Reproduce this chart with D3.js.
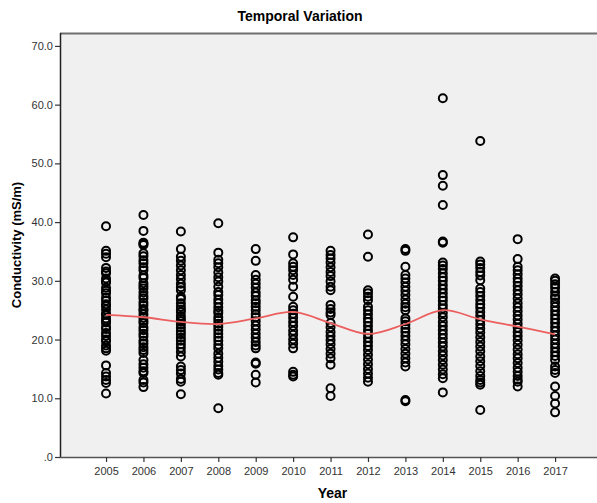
<!DOCTYPE html>
<html lang="en">
<head>
<meta charset="UTF-8">
<title>Temporal Variation</title>
<style>
  body { margin: 0; background: #fff; }
  svg { display: block; font-family: "Liberation Sans", Arial, sans-serif; }
</style>
</head>
<body>
<div id="chart"></div>
<script src="https://d3js.org/d3.v7.min.js"></script>
<script>
// years on the x axis
const years = [2005, 2006, 2007, 2008, 2009, 2010, 2011, 2012, 2013, 2014, 2015, 2016, 2017]

// conductivity readings (mS/m), one list per year
const conductivity = [
  [39.3, 35.1, 34.6, 34.0, 32.2, 31.6, 31.3, 30.4, 29.9, 29.7, 28.8, 28.3, 27.9, 27.1, 26.6, 26.0, 25.7, 25.1, 24.4, 24.2, 23.6, 23.1, 22.9, 22.2, 21.8, 21.1, 20.6, 20.0, 19.7, 19.0, 18.5, 18.1, 15.6, 14.3, 13.7, 13.1, 12.6, 10.8],
  [41.2, 38.5, 36.5, 36.3, 36.1, 34.7, 34.2, 33.5, 33.0, 32.3, 31.8, 30.9, 30.5, 29.6, 29.1, 28.7, 28.0, 27.4, 27.0, 26.3, 25.8, 25.2, 24.9, 24.3, 23.7, 23.2, 22.8, 22.1, 21.6, 21.0, 20.5, 19.8, 19.3, 18.7, 18.2, 17.7, 16.5, 15.8, 15.2, 14.6, 14.3, 13.1, 12.7, 11.9],
  [38.4, 35.4, 34.1, 33.4, 32.6, 31.8, 31.0, 30.3, 29.5, 28.9, 28.4, 27.3, 26.9, 26.2, 25.6, 25.1, 24.7, 24.0, 23.5, 23.1, 22.6, 22.0, 21.4, 20.9, 20.3, 19.8, 19.2, 18.6, 17.9, 17.1, 15.4, 14.8, 14.2, 13.3, 12.8, 10.7],
  [39.8, 34.8, 33.6, 33.0, 32.3, 31.4, 30.6, 29.9, 29.0, 28.1, 27.6, 26.8, 26.2, 25.5, 24.9, 24.5, 23.8, 23.3, 22.7, 22.2, 21.6, 21.0, 20.4, 19.8, 19.1, 18.5, 17.6, 16.9, 16.2, 15.5, 14.9, 14.3, 14.0, 8.3],
  [35.4, 33.4, 31.0, 30.2, 29.5, 28.8, 28.0, 27.4, 26.7, 26.2, 25.6, 25.0, 24.3, 23.8, 23.1, 22.4, 21.7, 21.0, 20.3, 19.6, 19.0, 18.5, 16.1, 15.9, 14.0, 12.7],
  [37.4, 34.5, 33.0, 32.4, 31.8, 31.0, 30.2, 29.0, 27.3, 25.6, 25.0, 24.4, 23.7, 23.0, 22.3, 21.5, 20.8, 20.0, 19.3, 18.5, 14.5, 14.0, 13.7],
  [35.1, 34.4, 33.8, 33.1, 32.3, 31.5, 30.8, 29.9, 29.0, 28.4, 25.9, 25.2, 24.6, 24.2, 22.8, 22.1, 21.3, 20.6, 19.9, 19.2, 18.4, 17.6, 16.8, 15.7, 11.7, 10.4],
  [37.9, 34.1, 28.4, 27.9, 27.3, 26.7, 25.6, 25.0, 24.3, 23.6, 23.0, 22.3, 21.6, 21.0, 20.3, 19.6, 18.9, 18.2, 17.4, 16.6, 15.8, 15.0, 14.2, 13.5, 12.8],
  [35.4, 35.1, 32.4, 31.0, 30.4, 29.7, 29.0, 28.3, 27.6, 26.8, 26.1, 25.5, 25.0, 23.6, 23.1, 22.5, 21.9, 21.3, 20.6, 19.9, 19.2, 18.4, 17.6, 16.8, 16.1, 15.4, 9.7, 9.5],
  [61.1, 48.0, 46.2, 42.9, 36.7, 36.5, 33.1, 32.6, 32.0, 31.3, 30.6, 30.0, 29.3, 28.6, 27.9, 27.2, 26.6, 25.9, 25.3, 24.5, 23.8, 23.0, 22.3, 21.6, 20.9, 20.2, 19.5, 18.8, 18.0, 17.3, 16.5, 15.7, 14.9, 14.1, 13.4, 11.0],
  [53.8, 33.3, 32.8, 32.2, 31.5, 30.9, 30.1, 28.7, 28.1, 27.4, 26.7, 26.0, 25.4, 24.7, 24.0, 23.3, 22.6, 21.9, 21.2, 20.4, 19.6, 18.8, 18.0, 17.1, 16.3, 15.5, 14.6, 13.8, 13.1, 12.7, 12.3, 8.0],
  [37.1, 33.7, 32.4, 31.8, 31.1, 30.4, 29.8, 29.1, 28.4, 27.7, 27.0, 26.2, 25.5, 24.8, 24.1, 23.4, 22.7, 22.0, 21.3, 20.6, 19.9, 19.1, 18.3, 17.5, 16.8, 16.0, 15.2, 14.5, 13.8, 13.2, 12.8, 12.0],
  [30.4, 30.0, 29.4, 28.8, 28.1, 27.4, 27.0, 26.3, 25.6, 24.9, 24.2, 23.5, 22.8, 22.1, 21.4, 20.7, 20.0, 19.3, 18.6, 17.9, 17.2, 16.5, 15.4, 14.8, 14.3, 12.0, 10.4, 9.1, 7.6]
]

// fitted (loess) line, one value per year
const loessFit = [24.2, 23.8, 23.0, 22.65, 23.6, 24.7, 22.8, 20.95, 22.65, 25.0, 23.45, 22.2, 20.9]

const yTicks = [0, 10, 20, 30, 40, 50, 60, 70]

const width = 597
const height = 503
const margin = { top: 33, right: 0, bottom: 46, left: 60 }

const svg = d3.select('#chart')
  .append('svg')
  .attr('width', width)
  .attr('height', height)

const x = d3.scaleLinear()
  .domain([2003.77, 2018.12])
  .range([margin.left, width - margin.right])

const y = d3.scaleLinear()
  .domain([0, 72.2])
  .range([height - margin.bottom, margin.top])

// plot background
svg.append('rect')
  .attr('x', margin.left)
  .attr('y', margin.top)
  .attr('width', width - margin.left - margin.right)
  .attr('height', height - margin.top - margin.bottom)
  .attr('fill', '#f0f0f0')

svg.append('line')
  .attr('x1', margin.left).attr('x2', width)
  .attr('y1', margin.top + 0.5).attr('y2', margin.top + 0.5)
  .attr('stroke', '#6e6e6e')
  .attr('stroke-width', 2)

// axes
const yAxis = svg.append('g')
  .attr('transform', `translate(${margin.left},0)`)
  .call(d3.axisLeft(y)
    .tickValues(yTicks)
    .tickSize(5)
    .tickPadding(2)
    .tickFormat(d => d === 0 ? '.0' : d3.format('.1f')(d)))

const xAxis = svg.append('g')
  .attr('transform', `translate(0,${height - margin.bottom})`)
  .call(d3.axisBottom(x)
    .tickValues(years)
    .tickSize(5)
    .tickPadding(5)
    .tickFormat(d3.format('d')))

yAxis.select('.domain').attr('stroke', '#222').attr('stroke-width', 1.5)
  .attr('d', `M0.5,${margin.top}V${height - margin.bottom}`)
xAxis.select('.domain').attr('stroke', '#555').attr('stroke-width', 1.5)
  .attr('d', `M${margin.left},0.5H${width}`)

svg.selectAll('.tick line').attr('stroke', '#333').attr('stroke-width', 1.2)
svg.selectAll('.tick text')
  .attr('fill', '#333')
  .style('font-size', '11px')
  .style('font-family', '"Liberation Sans", Arial, sans-serif')

// points
const points = []
years.forEach((yr, i) => conductivity[i].forEach(v => points.push({ year: yr, value: v })))

svg.append('g')
  .selectAll('circle')
  .data(points)
  .join('circle')
  .attr('cx', d => x(d.year))
  .attr('cy', d => y(d.value))
  .attr('r', 4)
  .attr('fill', 'none')
  .attr('stroke', '#000')
  .attr('stroke-width', 2)

// fit line
const line = d3.line()
  .x((d, i) => x(years[i]))
  .y(d => y(d))
  .curve(d3.curveCatmullRom.alpha(0.5))

svg.append('path')
  .datum(loessFit)
  .attr('d', line)
  .attr('fill', 'none')
  .attr('stroke', '#ec5f5f')
  .attr('stroke-width', 1.8)

// titles
svg.append('text')
  .attr('x', 300)
  .attr('y', 21)
  .attr('text-anchor', 'middle')
  .style('font-size', '14px')
  .style('font-weight', 'bold')
  .text('Temporal Variation')

svg.append('text')
  .attr('x', (margin.left + width) / 2 + 4)
  .attr('y', 498)
  .attr('text-anchor', 'middle')
  .style('font-size', '14px')
  .style('font-weight', 'bold')
  .text('Year')

svg.append('text')
  .attr('transform', `translate(21,${(margin.top + height - margin.bottom) / 2}) rotate(-90)`)
  .attr('text-anchor', 'middle')
  .style('font-size', '13px')
  .style('font-weight', 'bold')
  .text('Conductivity (mS/m)')
</script>
</body>
</html>
